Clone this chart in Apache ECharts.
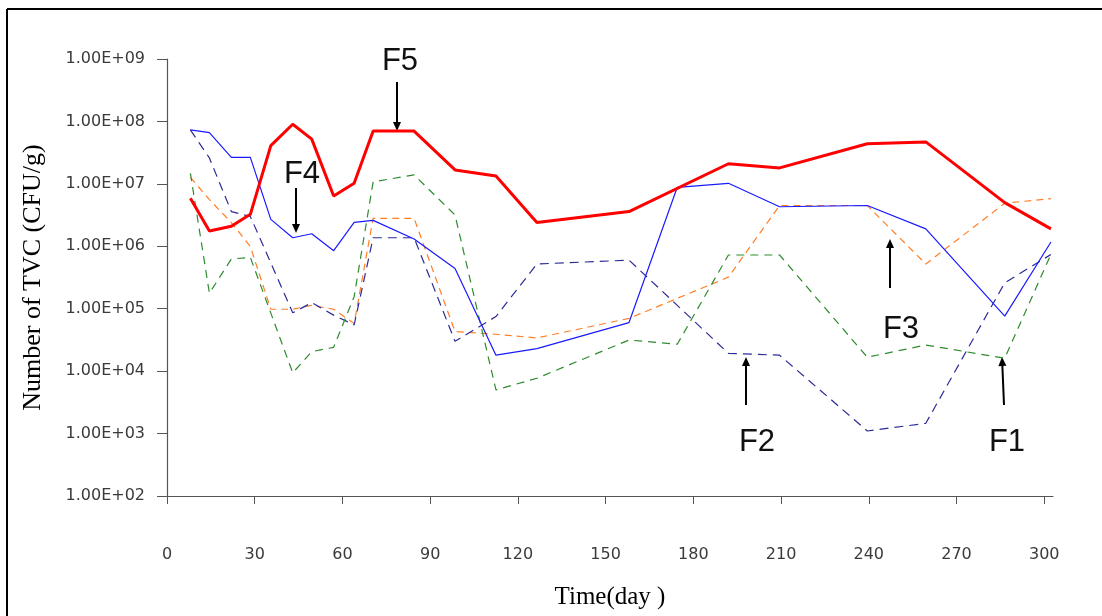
<!DOCTYPE html>
<html>
<head>
<meta charset="utf-8">
<script src="https://cdn.jsdelivr.net/npm/echarts@6/dist/echarts.min.js"></script>
<style>
html,body{margin:0;padding:0;background:#fff;}
#chart{width:1102px;height:616px;}
</style>
</head>
<body>
<div id="chart"></div>
<script>
// ---- data ----
const days = [8, 14.5, 22, 28.5, 35.5, 43, 49.5, 57, 64, 70.5, 84.5, 98.5, 112.5, 126.5, 158, 174.5, 192, 209.5, 239.5, 259.5, 286.5, 302.3];
const f5 = [5.9e6, 1.76e6, 2.1e6, 3.25e6, 4.1e7, 9.0e7, 5.2e7, 6.4e6, 1.02e7, 7.0e7, 7.0e7, 1.67e7, 1.34e7, 2.4e6, 3.6e6, null, 2.1e7, 1.8e7, 4.4e7, 4.7e7, 5.0e6, 1.9e6];
const f4 = [7.3e7, 6.6e7, 2.66e7, 2.66e7, 2.7e6, 1.37e6, 1.59e6, 8.5e5, 2.42e6, 2.6e6, 1.31e6, 4.4e5, 1.8e4, 2.3e4, 6.0e4, 8.8e6, 1.02e7, 4.3e6, 4.5e6, 1.9e6, 7.6e4, 1.17e6];
const f3 = [1.27e7, 5.6e6, 2.4e6, 9.9e5, 9.8e4, 9.8e4, 1.13e5, 9.8e4, 5.8e4, 2.8e6, 2.8e6, 4.3e4, 3.9e4, 3.4e4, 7.0e4, null, 3.2e5, 4.5e6, 4.5e6, 5.2e5, 4.9e6, 5.8e6];
const f2 = [7.3e7, 2.6e7, 3.6e6, 3.0e6, null, 8.6e4, 1.25e5, 7.9e4, 5.5e4, 1.37e6, 1.37e6, 3.0e4, 7.5e4, 5.2e5, 6.0e5, null, 1.93e4, 1.8e4, 1.1e3, 1.46e3, 2.6e5, 7.4e5];
const f1 = [1.48e7, 1.77e5, 6.25e5, 6.65e5, null, 9.4e3, 2.05e4, 2.41e4, 1.56e5, 1.08e7, 1.39e7, 3.17e6, 5.0e3, 7.7e3, 3.15e4, 2.7e4, 7.25e5, 7.25e5, 1.67e4, 2.62e4, 1.61e4, 7.44e5];
const xTicks = [0, 30, 60, 90, 120, 150, 180, 210, 240, 270, 300];
const seriesNames = ['F5', 'F4', 'F3', 'F2', 'F1'];

function pairs(vals) {
  const out = [];
  vals.forEach((v, i) => { if (v !== null) out.push([days[i], v]); });
  return out;
}
function fmtSci(v) {
  const e = Math.round(Math.log10(v));
  return '1.00E+' + (e < 10 ? '0' : '') + e;
}

const chart = echarts.init(document.getElementById('chart'), null, {renderer: 'canvas'});

function arrow(x1, y1, x2, y2) {
  const dx = x2 - x1, dy = y2 - y1, len = Math.sqrt(dx*dx + dy*dy);
  const ux = dx / len, uy = dy / len;
  const hl = 9, hw = 4;
  const bx = x2 - ux * hl, by = y2 - uy * hl;
  return [
    {type: 'line', shape: {x1: x1, y1: y1, x2: bx, y2: by}, style: {stroke: '#000', lineWidth: 2}, silent: true},
    {type: 'polygon', shape: {points: [[x2, y2], [bx - uy * hw, by + ux * hw], [bx + uy * hw, by - ux * hw]]}, style: {fill: '#000'}, silent: true}
  ];
}
function label(txt, x, y) {
  return {type: 'text', x: x, y: y, silent: true,
    style: {text: txt, fontSize: 31, fontFamily: 'Liberation Sans Narrow, Arial Narrow, Liberation Sans, Arial, sans-serif', fill: '#111', align: 'center', verticalAlign: 'middle'}};
}

const axisLabelStyle = {color: '#3a3a3a', fontSize: 16, fontFamily: 'DejaVu Sans, Verdana, sans-serif'};

const option = {
  animation: false,
  backgroundColor: '#fff',
  grid: {left: 167, top: 59, right: 49, bottom: 120, containLabel: false},
  xAxis: {
    type: 'value', min: 0, max: 303,
    name: 'Time(day )', nameLocation: 'middle', nameGap: 89,
    nameTextStyle: {fontSize: 25, fontFamily: 'Liberation Serif, Times New Roman, serif', color: '#000'},
    axisLine: {show: true, lineStyle: {color: '#555', width: 1.2}},
    axisTick: {show: true, inside: false, length: 8, customValues: xTicks, lineStyle: {color: '#555'}},
    axisLabel: Object.assign({margin: 51, customValues: xTicks}, axisLabelStyle),
    splitLine: {show: false}
  },
  yAxis: {
    type: 'log', logBase: 10, min: 100, max: 1e9, splitNumber: 7,
    name: 'Number of TVC (CFU/g)', nameLocation: 'middle', nameGap: 121, nameRotate: 90,
    nameTextStyle: {fontSize: 26, fontFamily: 'Liberation Serif, Times New Roman, serif', color: '#000'},
    axisLine: {show: true, lineStyle: {color: '#555', width: 1.2}},
    axisTick: {show: true, inside: false, length: 10, lineStyle: {color: '#555'}},
    axisLabel: Object.assign({margin: 22, formatter: fmtSci}, axisLabelStyle),
    splitLine: {show: false}
  },
  series: [
    {name: seriesNames[0], type: 'line', data: pairs(f5), connectNulls: true, showSymbol: false, z: 5,
     lineStyle: {color: '#ff0000', width: 3}},
    {name: seriesNames[1], type: 'line', data: pairs(f4), connectNulls: true, showSymbol: false, z: 4,
     lineStyle: {color: '#1a1aff', width: 1.2}},
    {name: seriesNames[2], type: 'line', data: pairs(f3), connectNulls: true, showSymbol: false, z: 3,
     lineStyle: {color: '#ff7f27', width: 1.2, type: [7, 5]}},
    {name: seriesNames[3], type: 'line', data: pairs(f2), connectNulls: true, showSymbol: false, z: 3,
     lineStyle: {color: '#2b2b96', width: 1.2, type: [9, 6]}},
    {name: seriesNames[4], type: 'line', data: pairs(f1), connectNulls: true, showSymbol: false, z: 3,
     lineStyle: {color: '#2e8b2e', width: 1.2, type: [8, 6]}}
  ],
  graphic: [
    {type: 'line', shape: {x1: 7, y1: 9, x2: 1102, y2: 9}, style: {stroke: '#000', lineWidth: 2}, silent: true},
    {type: 'line', shape: {x1: 7, y1: 9, x2: 7, y2: 616}, style: {stroke: '#000', lineWidth: 2}, silent: true},
    label('F5', 400, 61),
    label('F4', 302, 174),
    label('F3', 901, 329),
    label('F2', 757, 442),
    label('F1', 1007, 442)
  ].concat(arrow(397, 82, 397, 131))
   .concat(arrow(296, 188, 296, 233))
   .concat(arrow(890, 288, 890, 239))
   .concat(arrow(746, 405, 746, 357))
   .concat(arrow(1004, 405, 1002, 357))
};
chart.setOption(option);
</script>
</body>
</html>
